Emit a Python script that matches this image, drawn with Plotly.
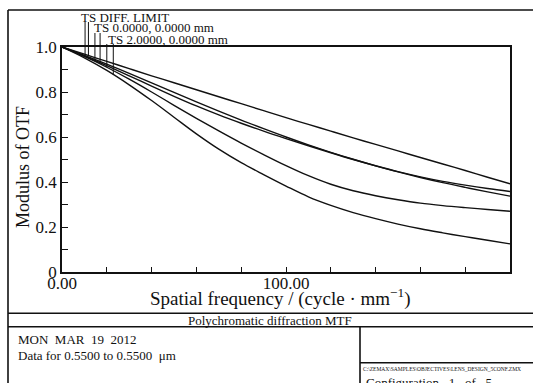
import numpy as np
import plotly.graph_objects as go

# ---------------- data ----------------
freq = [0, 10, 20, 30, 40, 50, 60, 70, 80, 90, 100,
        110, 120, 130, 140, 150, 160, 170, 180, 190, 200]

mtf_diff_limit = [1.000, 0.968, 0.936, 0.904, 0.872, 0.841, 0.810, 0.779, 0.748, 0.717, 0.686,
                  0.656, 0.626, 0.596, 0.567, 0.538, 0.509, 0.480, 0.451, 0.421, 0.392]
mtf_f0_a = [1.000, 0.963, 0.924, 0.883, 0.841, 0.798, 0.756, 0.715, 0.675, 0.637, 0.600,
            0.565, 0.532, 0.501, 0.472, 0.445, 0.420, 0.397, 0.376, 0.356, 0.337]
mtf_f0_b = [1.000, 0.960, 0.917, 0.872, 0.826, 0.781, 0.738, 0.698, 0.661, 0.626, 0.593,
            0.561, 0.530, 0.500, 0.472, 0.446, 0.423, 0.403, 0.386, 0.371, 0.358]
mtf_f2_a = [1.000, 0.958, 0.910, 0.857, 0.800, 0.741, 0.683, 0.627, 0.573, 0.522, 0.473,
            0.428, 0.390, 0.361, 0.339, 0.321, 0.306, 0.295, 0.286, 0.278, 0.270]
mtf_f2_b = [1.000, 0.952, 0.896, 0.832, 0.762, 0.688, 0.614, 0.546, 0.486, 0.433, 0.382,
            0.334, 0.296, 0.264, 0.237, 0.213, 0.192, 0.174, 0.157, 0.141, 0.125]

curves = [mtf_diff_limit, mtf_f0_a, mtf_f0_b, mtf_f2_a, mtf_f2_b]

y_tick_vals = [0, 0.2, 0.4, 0.6, 0.8, 1.0]
y_tick_text = ["0", "0.2", "0.4", "0.6", "0.8", "1.0"]
x_tick_vals = [0, 100, 200]
x_tick_text = ["0.00", "100.00", "200.00"]

legend_labels = ["TS DIFF. LIMIT", "TS 0.0000, 0.0000 mm", "TS 2.0000, 0.0000 mm"]
leader_freqs = [10.3, 11.8, 14.7, 17.0, 20.0, 22.9]
leader_curve = [0, 0, 1, 2, 3, 4]

x_title = "Spatial frequency / (cycle · mm<sup>−1</sup>)"
y_title = "Modulus of OTF"
plot_title = "Polychromatic diffraction MTF"
date_text = "MON\u00a0\u00a0MAR\u00a0\u00a019\u00a0\u00a02012"
data_text = "Data for 0.5500 to 0.5500\u00a0\u00a0μm"
file_text = "C:\\ZEMAX\\SAMPLES\\OBJECTIVES\\LENS_DESIGN_5CONF.ZMX"
config_text = "Configuration\u00a0\u00a0\u00a01\u00a0\u00a0\u00a0of\u00a0\u00a0\u00a05"

# ---------------- layout geometry (pixels) ----------------
W, H = 533, 383
ML, MR, MT, MB = 62, 23, 47, 111
PW, PH = W - ML - MR, H - MT - MB


def px(xp):
    return (xp - ML) / PW


def py(yp):
    return (H - MB - yp) / PH


FONT = "Liberation Serif, Times New Roman, serif"
INK = "#111111"

fig = go.Figure()
for c in curves:
    fig.add_trace(go.Scatter(x=freq, y=c, mode="lines",
                             line=dict(color=INK, width=1.4, shape="spline", smoothing=1.0),
                             showlegend=False, hoverinfo="skip"))

axis_common = dict(showline=True, linecolor=INK, linewidth=1.6, mirror=True,
                   showgrid=False, zeroline=False, ticks="inside", ticklen=5,
                   tickcolor=INK, tickwidth=1.2,
                   tickfont=dict(family=FONT, size=17, color=INK))

fig.update_xaxes(range=[0, 200], tickvals=x_tick_vals, ticktext=x_tick_text,
                 ticklabelstandoff=-5,
                 minor=dict(dtick=20, ticks="inside", ticklen=5, tickcolor=INK, tickwidth=1.2),
                 **axis_common)
fig.update_yaxes(range=[0, 1], tickvals=y_tick_vals, ticktext=y_tick_text,
                 minor=dict(dtick=0.1, ticks="inside", ticklen=6, tickcolor=INK, tickwidth=1.2),
                 **axis_common)

shapes = []
LW = 1.6


def hline(y, x0, x1):
    shapes.append(dict(type="line", xref="paper", yref="paper",
                       x0=px(x0), x1=px(x1), y0=py(y), y1=py(y),
                       line=dict(color=INK, width=LW)))


def vline(x, y0, y1):
    shapes.append(dict(type="line", xref="paper", yref="paper",
                       x0=px(x), x1=px(x), y0=py(y0), y1=py(y1),
                       line=dict(color=INK, width=LW)))


hline(10, 8, 545)
vline(8, 10, 395)
hline(313.3, 8, 545)
hline(326.7, 8, 545)
vline(360, 326.7, 395)
hline(362.7, 360, 545)

# legend leader lines: from below label down to the curve
leader_tops = [22, 22, 33, 33, 44, 44]
for f, ci, top in zip(leader_freqs, leader_curve, leader_tops):
    yb = float(np.interp(f, freq, curves[ci]))
    shapes.append(dict(type="line", xref="paper", yref="paper",
                       x0=f / 200, x1=f / 200, y0=py(top), y1=yb,
                       line=dict(color=INK, width=1.0)))

fig.update_layout(shapes=shapes)

ann = []


def text(t, x, y, size, xanchor="left", yanchor="middle", angle=0, pad=1):
    ann.append(dict(text=t, xref="paper", yref="paper", x=px(x), y=py(y),
                    xanchor=xanchor, yanchor=yanchor, showarrow=False, textangle=angle,
                    borderpad=pad,
                    font=dict(family=FONT, size=size, color=INK)))


text(y_title, 23, 167, 18, xanchor="center", angle=-90)
text(x_title, 280, 297, 19, xanchor="center", pad=0)
text(plot_title, 270, 320, 13, xanchor="center")
text(date_text, 16, 339, 13)
text(data_text, 16, 355, 13)
text(file_text, 361, 369, 5.5)
text(config_text, 364, 382.5, 13)
for lab, (lx, ly) in zip(legend_labels, [(80, 17.5), (93, 28), (107, 39.5)]):
    text(lab, lx, ly, 13, pad=0)

fig.update_layout(annotations=ann, width=W, height=H, autosize=False,
                  margin=dict(l=ML, r=MR, t=MT, b=MB),
                  paper_bgcolor="white", plot_bgcolor="white",
                  font=dict(family=FONT, color=INK))

fig.write_html("out.html")
